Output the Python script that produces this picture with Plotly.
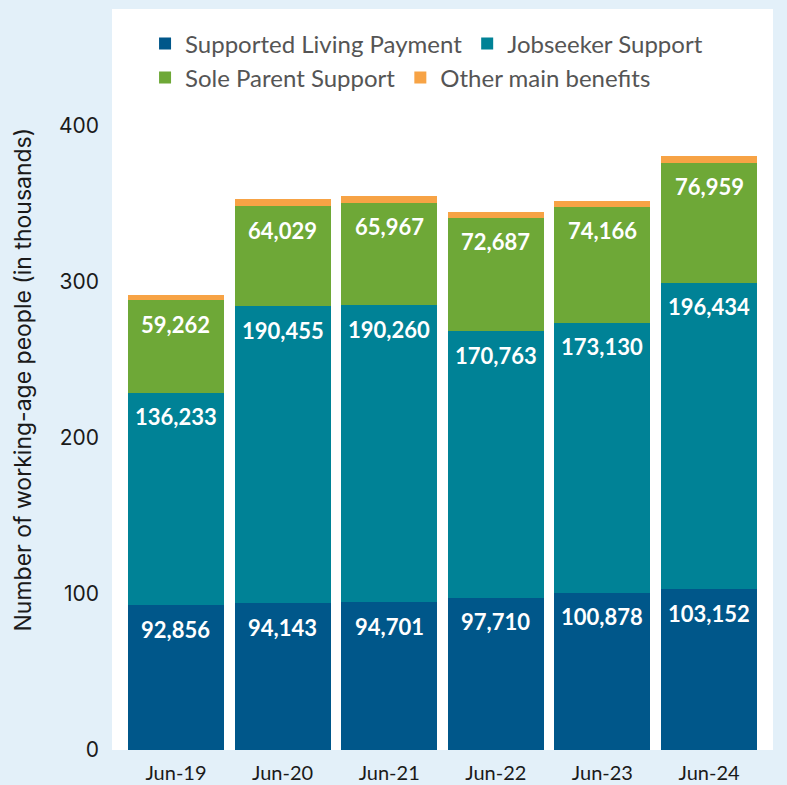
import plotly.graph_objects as go

categories = ["Jun-19", "Jun-20", "Jun-21", "Jun-22", "Jun-23", "Jun-24"]
supported_living = [92856, 94143, 94701, 97710, 100878, 103152]
jobseeker = [136233, 190455, 190260, 170763, 173130, 196434]
sole_parent = [59262, 64029, 65967, 72687, 74166, 76959]
other_main = [3300, 4500, 3900, 3900, 3900, 4500]

series = [
    ("Supported Living Payment", supported_living, "#00578a", True, "legend"),
    ("Jobseeker Support", jobseeker, "#008296", True, "legend"),
    ("Sole Parent Support", sole_parent, "#6ea837", True, "legend2"),
    ("Other main benefits", other_main, "#f7a345", False, "legend2"),
]

fig = go.Figure()
annotations = []
cum = [0.0] * len(categories)
for name, vals, color, labelled, leg in series:
    fig.add_trace(go.Bar(
        name=name, x=categories, y=[v / 1000 for v in vals],
        marker=dict(color=color, line=dict(width=0)),
        hoverinfo="skip", legend=leg,
    ))
    cum = [c + v / 1000 for c, v in zip(cum, vals)]
    if labelled:
        for cat, top, v in zip(categories, cum, vals):
            annotations.append(dict(
                x=cat, y=top, xref="x", yref="y", text=f"{v:,}",
                showarrow=False, yanchor="middle", yshift=-24,
                font=dict(family="Lato", size=22, color="white", weight="bold"),
            ))

annotations.append(dict(
    text="Number of working-age people (in thousands)", textangle=-90,
    xref="paper", yref="paper", x=0, y=0.5, xanchor="center", yanchor="middle",
    xshift=-90, showarrow=False,
    font=dict(family="Inter", size=23, color="#1a1a1a"),
))

legend_common = dict(
    orientation="h", traceorder="normal", x=0.05, xanchor="left",
    yanchor="middle", font=dict(family="Lato", size=24, color="#555555"),
    bgcolor="rgba(0,0,0,0)", itemclick=False, itemdoubleclick=False,
)

fig.update_layout(
    width=787, height=785,
    margin=dict(l=112, r=14, t=9, b=35, autoexpand=False),
    barmode="stack", bargap=0.1,
    paper_bgcolor="#e3f0f9", plot_bgcolor="white",
    showlegend=True,
    legend=dict(y=0.9528, **legend_common),
    legend2=dict(y=0.9069, **legend_common),
    annotations=annotations,
    xaxis=dict(
        range=[-0.6, 5.6], showgrid=False, zeroline=False, showline=False,
        ticks="", tickfont=dict(family="Lato", size=20, color="#1a1a1a"),
        ticklabelstandoff=9,
    ),
    yaxis=dict(
        range=[0, 475], tickvals=[0, 100, 200, 300, 400], showgrid=False,
        zeroline=False, showline=False, ticks="",
        tickfont=dict(family="Inter", size=21, color="#1a1a1a"),
        ticklabelstandoff=12,
    ),
)

fig.write_html(
    "out.html",
    config={"displayModeBar": False},
    post_script="document.body.style.margin='0';",
)
